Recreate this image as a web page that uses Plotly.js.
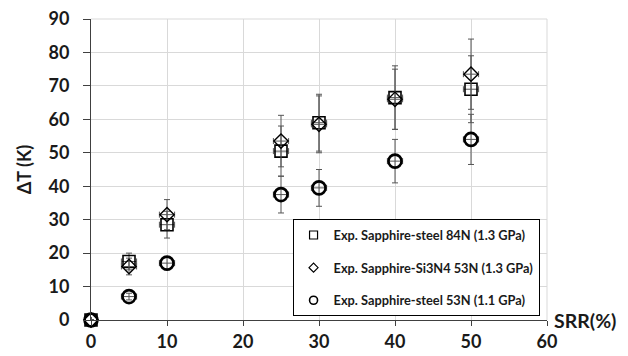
<!DOCTYPE html>
<html>
<head>
<meta charset="utf-8">
<script src="https://cdn.plot.ly/plotly-3.0.1.min.js"></script>
<style>html,body{margin:0;padding:0;background:#fff;}#chart{width:628px;height:356px;}</style>
</head>
<body>
<div id="chart"></div>
<script>
const srr = [0, 5, 10, 25, 30, 40, 50];
const steel84 = [0, 17.5, 28.5, 50.5, 59, 66.5, 69];
const steel84Err = [0, 2.5, 4, 7.5, 8.5, 9.5, 10];
const si3n4 = [0, 16, 31.5, 53.5, 58.5, 66, 73.5];
const si3n4Err = [0, 2.5, 4.5, 7.7, 8.5, 9, 10.5];
const steel53 = [0, 7, 17, 37.5, 39.5, 47.5, 54];
const steel53Err = [0, 1, 2, 5.5, 5.5, 6.5, 7.5];
const srrErr = [0, 1, 1, 1, 1, 1, 1];
const names = [
  'Exp. Sapphire-steel 84N (1.3 GPa)',
  'Exp. Sapphire-Si3N4 53N (1.3 GPa)',
  'Exp. Sapphire-steel 53N (1.1 GPa)'
];
const yTicks = [0,10,20,30,40,50,60,70,80,90];
const xTicks = [0,10,20,30,40,50,60];

function mk(y, ey, name, symbol, size, lw) {
  return {
    x: srr, y: y, name: name, type: 'scatter', mode: 'markers',
    showlegend: false, cliponaxis: false,
    marker: {symbol: symbol, size: size, color: '#000', line: {color: '#000', width: lw}},
    error_y: {type: 'data', array: ey, visible: true, color: '#555', thickness: 1, width: 3},
    error_x: {type: 'data', array: srrErr, visible: true, color: '#555', thickness: 1, width: 3}
  };
}
function leg(name, symbol, size, lw, grp) {
  return {
    x: [null], y: [null], name: name, type: 'scatter', mode: 'markers',
    legendgroup: grp, showlegend: true,
    marker: {symbol: symbol, size: size, color: '#000', line: {color: '#000', width: lw}}
  };
}
const data = [
  mk(steel84, steel84Err, names[0], 'square-open', 12, 1.6),
  mk(si3n4, si3n4Err, names[1], 'diamond-open', 11, 1.4),
  mk(steel53, steel53Err, names[2], 'circle-open', 13, 2.6),
  leg(names[0], 'square-open', 8, 1.2, 'a'),
  leg(names[1], 'diamond-open', 7, 1.2, 'b'),
  leg(names[2], 'circle-open', 8, 1.6, 'c')
];
const FF = 'Lato, "Open Sans", sans-serif';
const tickFont = {family: FF, size: 18, color: '#1a1a1a', weight: 'bold'};
const layout = {
  width: 628, height: 356,
  margin: {l: 91, r: 81, t: 19, b: 36},
  paper_bgcolor: '#fff', plot_bgcolor: '#fff',
  showlegend: true,
  xaxis: {
    range: [0, 60], tickvals: xTicks, ticktext: xTicks.map(String),
    showgrid: true, gridcolor: '#d9d9d9', gridwidth: 1,
    zeroline: false, showline: true, linecolor: '#404040', linewidth: 1,
    ticks: 'outside', ticklen: 5, tickcolor: '#404040',
    tickfont: tickFont
  },
  yaxis: {
    range: [0, 90], tickvals: yTicks, ticktext: yTicks.map(String),
    showgrid: true, gridcolor: '#d9d9d9', gridwidth: 1,
    zeroline: false, showline: true, linecolor: '#404040', linewidth: 1,
    ticks: 'outside', ticklen: 7, tickcolor: '#404040',
    ticklabelstandoff: 10,
    tickfont: tickFont,
    title: {text: 'ΔT (K)', font: {family: FF, size: 18, color: '#1a1a1a', weight: 'bold'}, standoff: 12}
  },
  shapes: [
    {type: 'line', xref: 'paper', yref: 'paper', x0: 0, x1: 1, y0: 1, y1: 1, line: {color: '#d9d9d9', width: 1}},
    {type: 'line', xref: 'paper', yref: 'paper', x0: 1, x1: 1, y0: 0, y1: 1, line: {color: '#d9d9d9', width: 1}}
  ],
  legend: {
    x: 0.442, y: 0.335, xanchor: 'left', yanchor: 'top',
    bgcolor: '#fff', bordercolor: '#000', borderwidth: 1,
    font: {family: FF, size: 12.8, color: '#1a1a1a', weight: 'bold'},
    tracegroupgap: 13, itemwidth: 30
  },
  annotations: [
    {text: 'SRR(%)', xref: 'paper', yref: 'paper', x: 1.01, y: 0, xanchor: 'left', yanchor: 'middle', showarrow: false,
     font: {family: FF, size: 19.5, color: '#1a1a1a', weight: 'bold'}}
  ]
};
Plotly.newPlot('chart', data, layout, {displayModeBar: false, staticPlot: true});
</script>
</body>
</html>
